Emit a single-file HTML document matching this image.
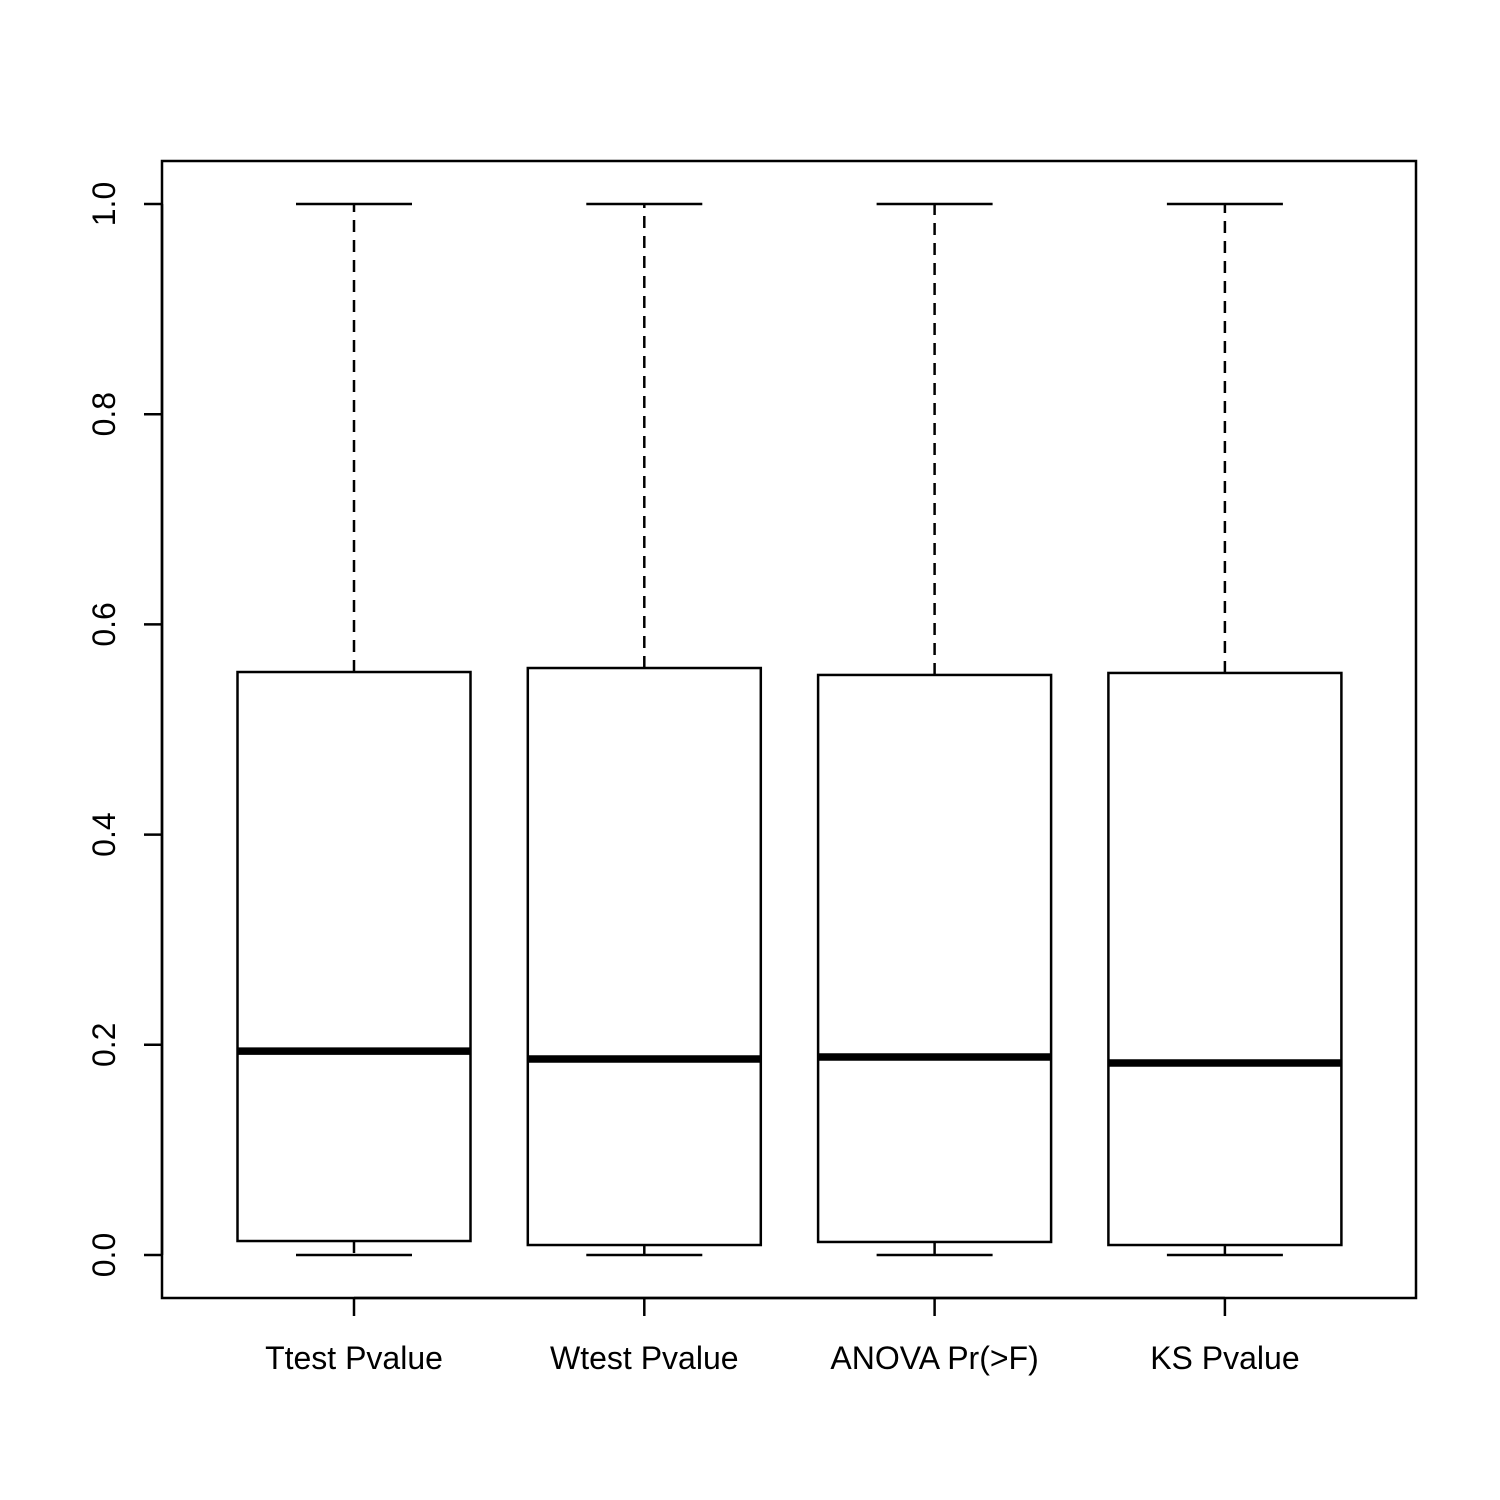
<!DOCTYPE html>
<html><head><meta charset="utf-8"><style>html,body{margin:0;padding:0;background:#fff}svg{display:block}</style></head>
<body>
<svg id="chart" width="1500" height="1500" xmlns="http://www.w3.org/2000/svg" font-family="Liberation Sans, Arial, sans-serif"></svg>
<script>
const categories = ["Ttest Pvalue","Wtest Pvalue","ANOVA Pr(>F)","KS Pvalue"];
const mins = [0,0,0,0];
const q1s = [0.0133,0.0095,0.0124,0.0095];
const medians = [0.194,0.1865,0.1884,0.1827];
const q3s = [0.5547,0.5585,0.5519,0.5538];
const maxs = [1,1,1,1];
const yTicks = [0,0.2,0.4,0.6,0.8,1.0];
const yTickLabels = ["0.0","0.2","0.4","0.6","0.8","1.0"];

const NS="http://www.w3.org/2000/svg";
const svg=document.getElementById('chart');
const L=162,R=1416,T=161,B=1298;
function y(v){return 1255-v*1051;}
function x(i){return 354+i*290.3;}
const halfW=116.5, capHalf=58;
function mk(tag,attrs,parent){const e=document.createElementNS(NS,tag);for(const k in attrs)e.setAttribute(k,attrs[k]);(parent||svg).appendChild(e);return e;}

const frame=mk('rect',{x:L,y:T,width:R-L,height:B-T,fill:'none',stroke:'#000','stroke-width':2.5});



const yAxis=mk('g',{});


mk('line',{x1:L,x2:L,y1:y(yTicks[0]),y2:y(yTicks[yTicks.length-1]),stroke:'#000','stroke-width':2.5},yAxis);
yTicks.forEach((t,i)=>{
  mk('line',{x1:L,x2:L-18,y1:y(t),y2:y(t),stroke:'#000','stroke-width':2.5},yAxis);
  const tx=mk('text',{x:0,y:0,'font-size':32,'text-anchor':'middle',transform:`translate(115,${y(t)}) rotate(-90)`},yAxis);
  tx.textContent=yTickLabels[i];
  
  
});

const xAxis=mk('g',{});


mk('line',{x1:x(0),x2:x(categories.length-1),y1:B,y2:B,stroke:'#000','stroke-width':2.5},xAxis);
categories.forEach((c,i)=>{
  mk('line',{x1:x(i),x2:x(i),y1:B,y2:B+18,stroke:'#000','stroke-width':2.5},xAxis);
  const tx=mk('text',{x:x(i),y:1369,'font-size':32,'text-anchor':'middle'},xAxis);
  tx.textContent=c;
  
  
});

categories.forEach((c,i)=>{
  const g=mk('g',{});
  
  
  const cx=x(i);
  mk('line',{x1:cx,x2:cx,y1:y(q3s[i]),y2:y(maxs[i]),stroke:'#000','stroke-width':2.5,'stroke-dasharray':'12,8'},g);
  mk('line',{x1:cx,x2:cx,y1:y(q1s[i]),y2:y(mins[i]),stroke:'#000','stroke-width':2.5,'stroke-dasharray':'12,8'},g);
  mk('line',{x1:cx-capHalf,x2:cx+capHalf,y1:y(maxs[i]),y2:y(maxs[i]),stroke:'#000','stroke-width':2.5},g);
  mk('line',{x1:cx-capHalf,x2:cx+capHalf,y1:y(mins[i]),y2:y(mins[i]),stroke:'#000','stroke-width':2.5},g);
  mk('rect',{x:cx-halfW,y:y(q3s[i]),width:2*halfW,height:y(q1s[i])-y(q3s[i]),fill:'#fff',stroke:'#000','stroke-width':2.5},g);
  mk('line',{x1:cx-halfW,x2:cx+halfW,y1:y(medians[i]),y2:y(medians[i]),stroke:'#000','stroke-width':7.5},g);
});
</script>
</body></html>
